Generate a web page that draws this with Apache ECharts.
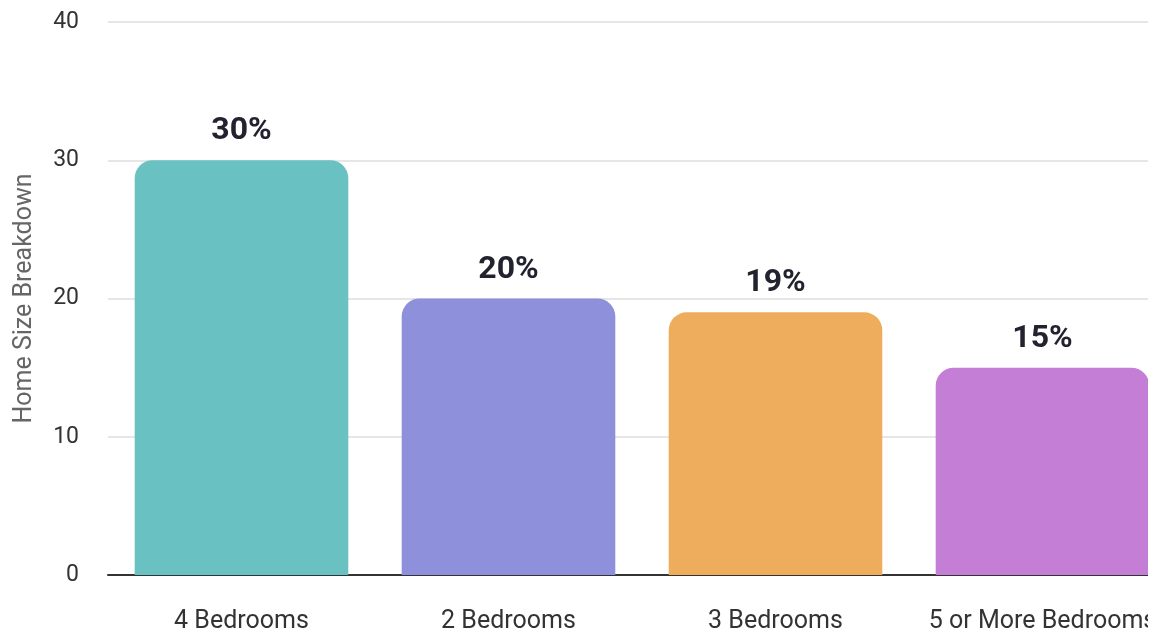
<!DOCTYPE html>
<html>
<head>
<meta charset="utf-8">
<script src="https://cdn.jsdelivr.net/npm/echarts@6/dist/echarts.min.js"></script>
<style>
  html, body { margin: 0; padding: 0; background: #ffffff; }
  #frame { width: 1148px; height: 634px; overflow: hidden; }
  #chart { width: 1200px; height: 634px; }
</style>
</head>
<body>
<div id="frame"><div id="chart"></div></div>
<script>
// Share of homes by number of bedrooms (percent)
const categories = ['4 Bedrooms', '2 Bedrooms', '3 Bedrooms', '5 or More Bedrooms'];
const shares = [30, 20, 19, 15];
const barColors = ['#6AC1C1', '#8E90DC', '#EEAD5C', '#C47ED6'];
const yTicks = [0, 10, 20, 30, 40];

const chart = echarts.init(document.getElementById('chart'), null, { renderer: 'canvas' });

chart.setOption({
  animation: false,
  backgroundColor: '#ffffff',
  textStyle: { fontFamily: 'Roboto' },
  grid: { left: 108, right: 24, top: 22, bottom: 59 },
  xAxis: {
    type: 'category',
    data: categories,
    axisTick: { show: false },
    axisLine: { lineStyle: { color: '#333333', width: 2 } },
    axisLabel: { interval: 0, hideOverlap: false, color: '#333333', fontSize: 25, margin: 34, fontFamily: 'Roboto' }
  },
  yAxis: {
    type: 'value',
    min: yTicks[0],
    max: yTicks[yTicks.length - 1],
    interval: 10,
    name: 'Home Size Breakdown',
    nameLocation: 'middle',
    nameGap: 71,
    nameTextStyle: { color: '#666666', fontSize: 25, fontFamily: 'Roboto' },
    axisLine: { show: false },
    axisTick: { show: false },
    axisLabel: { color: '#333333', fontSize: 23, margin: 29, fontFamily: 'Roboto' },
    splitLine: { lineStyle: { color: '#e6e6e6', width: 2 } }
  },
  series: [{
    type: 'bar',
    barCategoryGap: '20%',
    data: shares.map((v, i) => ({ value: v, itemStyle: { color: barColors[i] } })),
    itemStyle: { borderRadius: [18, 18, 0, 0] },
    label: {
      show: true,
      position: 'top',
      distance: 13,
      formatter: p => p.value + '%',
      color: '#23232F',
      fontSize: 32,
      fontWeight: 'bold',
      fontFamily: 'Roboto'
    }
  }]
});
</script>
</body>
</html>
